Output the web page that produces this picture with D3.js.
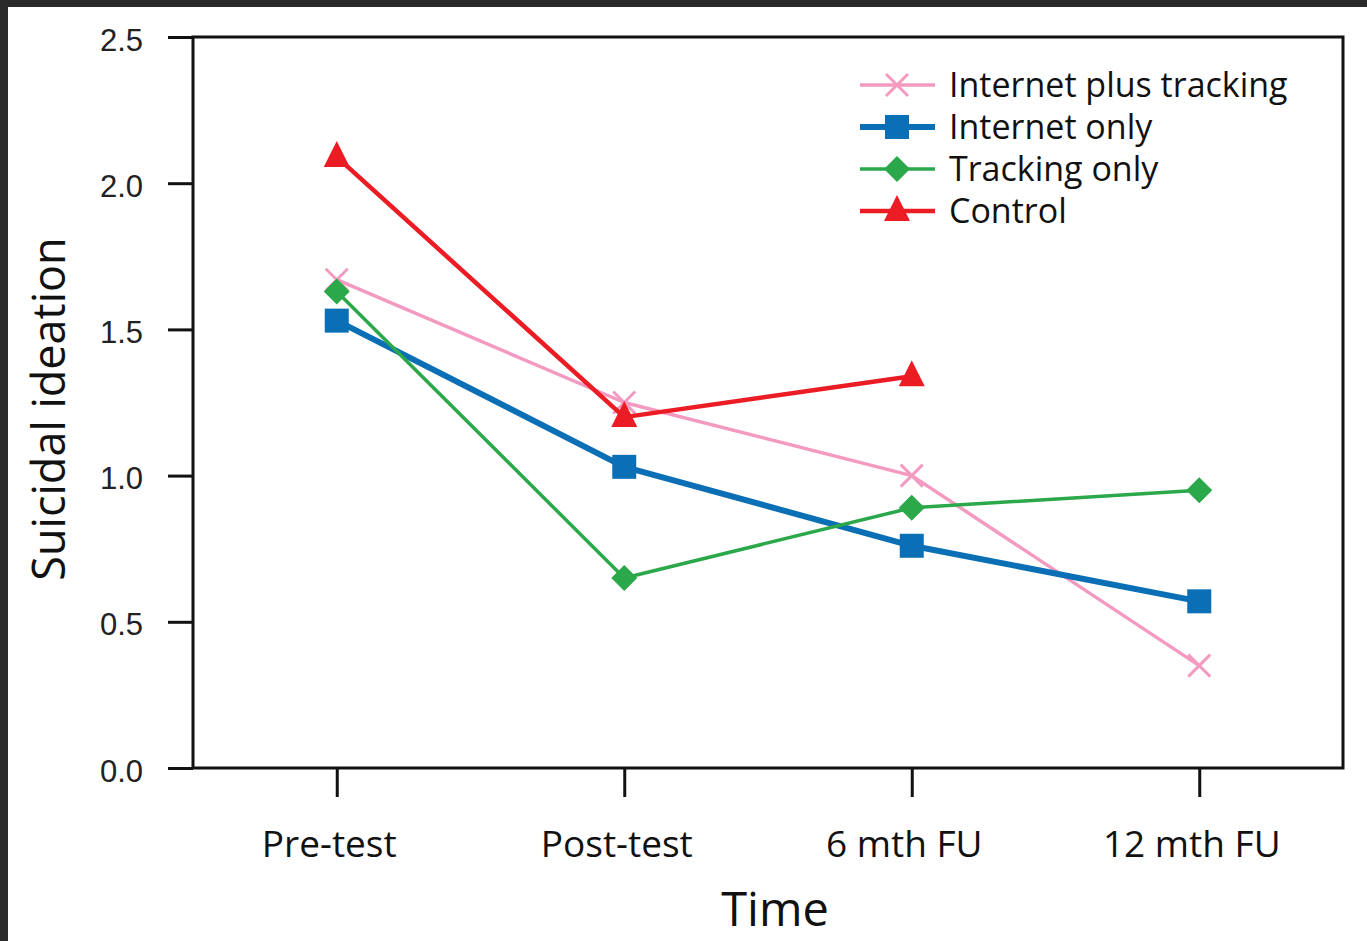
<!DOCTYPE html>
<html>
<head>
<meta charset="utf-8">
<script src="https://cdn.jsdelivr.net/npm/d3@7"></script>
<style>
  html, body { margin: 0; padding: 0; background: #fff; }
  svg { display: block; }
</style>
</head>
<body>
<div id="chart"></div>
<script>
// data
var timepoints = ['Pre-test', 'Post-test', '6 mth FU', '12 mth FU'];
var yTicks = [0.0, 0.5, 1.0, 1.5, 2.0, 2.5];

var internetPlusTracking = [1.67, 1.25, 1.00, 0.35];
var internetOnly = [1.53, 1.03, 0.76, 0.57];
var trackingOnly = [1.63, 0.65, 0.89, 0.95];
var control = [2.09, 1.20, 1.34, null];

var seriesNames = ['Internet plus tracking', 'Internet only', 'Tracking only', 'Control'];

var series = [
    { name: seriesNames[0], values: internetPlusTracking, color: '#f49ac1', width: 3.5, marker: 'cross' },
    { name: seriesNames[1], values: internetOnly, color: '#0b6fb6', width: 6, marker: 'square' },
    { name: seriesNames[2], values: trackingOnly, color: '#2aa84a', width: 3.5, marker: 'diamond' },
    { name: seriesNames[3], values: control, color: '#ec1c24', width: 4.5, marker: 'triangle' }
];

var W = 1367, H = 941;
var box = { left: 193, right: 1343, top: 37, bottom: 768 };

var svg = d3.select('#chart').append('svg')
    .attr('width', W)
    .attr('height', H);

// dark frame along top and left edges of the screenshot
svg.append('rect').attr('x', 0).attr('y', 0).attr('width', W).attr('height', 7).attr('fill', '#2a2a2a');
svg.append('rect').attr('x', 0).attr('y', 0).attr('width', 8).attr('height', H).attr('fill', '#2a2a2a');

var x = d3.scalePoint()
    .domain(timepoints)
    .range([box.left, box.right])
    .padding(0.5);

var y = d3.scaleLinear()
    .domain([0, 2.5])
    .range([box.bottom, box.top]);

// y axis ticks + labels
var yAxis = d3.axisLeft(y)
    .tickValues(yTicks)
    .tickFormat(d3.format('.1f'))
    .tickSize(25)
    .tickPadding(25);

var gy = svg.append('g')
    .attr('transform', 'translate(' + box.left + ',0)')
    .call(yAxis);
gy.select('.domain').remove();
gy.selectAll('line').attr('stroke', '#111').attr('stroke-width', 3);
gy.selectAll('text')
    .attr('dy', '0.42em')
    .attr('font-family', '"Liberation Sans", Arial, sans-serif')
    .attr('font-size', 31)
    .attr('fill', '#222');

// x axis ticks + labels
var xAxis = d3.axisBottom(x)
    .tickSize(29)
    .tickPadding(34);

var gx = svg.append('g')
    .attr('transform', 'translate(0,' + box.bottom + ')')
    .call(xAxis);
gx.select('.domain').remove();
gx.selectAll('line').attr('stroke', '#111').attr('stroke-width', 3);
gx.selectAll('text')
    .attr('dx', -8)
    .attr('font-family', '"Open Sans", "Noto Sans", sans-serif')
    .attr('font-size', 37)
    .attr('fill', '#111');

// plot frame
svg.append('rect')
    .attr('x', box.left)
    .attr('y', box.top)
    .attr('width', box.right - box.left)
    .attr('height', box.bottom - box.top)
    .attr('fill', 'none')
    .attr('stroke', '#111')
    .attr('stroke-width', 3);

// axis titles
svg.append('text')
    .attr('transform', 'translate(65,409) rotate(-90)')
    .attr('text-anchor', 'middle')
    .attr('font-family', '"Open Sans", "Noto Sans", sans-serif')
    .attr('font-size', 45)
    .attr('fill', '#111')
    .text('Suicidal ideation');

svg.append('text')
    .attr('x', 775)
    .attr('y', 926)
    .attr('text-anchor', 'middle')
    .attr('font-family', '"Open Sans", "Noto Sans", sans-serif')
    .attr('font-size', 47)
    .attr('fill', '#111')
    .text('Time');

function drawMarker(g, type, color) {
    if (type === 'square') {
        g.append('rect').attr('x', -12).attr('y', -12).attr('width', 24).attr('height', 24).attr('fill', color);
    } else if (type === 'diamond') {
        g.append('path').attr('d', 'M0,-13L13,0L0,13L-13,0Z').attr('fill', color);
    } else if (type === 'triangle') {
        g.append('path').attr('d', 'M0,-16L13,10L-13,10Z').attr('fill', color);
    } else {
        g.append('path').attr('d', 'M-11,-11L11,11M-11,11L11,-11')
            .attr('stroke', color).attr('stroke-width', 3).attr('fill', 'none');
    }
}

var line = d3.line()
    .defined(function(d) { return d != null; })
    .x(function(d, i) { return x(timepoints[i]); })
    .y(function(d) { return y(d); });

series.forEach(function(s) {
    var g = svg.append('g');
    g.append('path')
        .datum(s.values)
        .attr('d', line)
        .attr('fill', 'none')
        .attr('stroke', s.color)
        .attr('stroke-width', s.width)
        .attr('stroke-linejoin', 'round');

    s.values.forEach(function(v, i) {
        if (v == null) return;
        var m = g.append('g').attr('transform', 'translate(' + x(timepoints[i]) + ',' + y(v) + ')');
        drawMarker(m, s.marker, s.color);
    });
});

// legend
var legend = svg.append('g').attr('transform', 'translate(860,85)');
series.forEach(function(s, i) {
    var row = legend.append('g').attr('transform', 'translate(0,' + (i * 42) + ')');
    row.append('line')
        .attr('x1', 0).attr('x2', 75).attr('y1', 0).attr('y2', 0)
        .attr('stroke', s.color).attr('stroke-width', s.width);
    var m = row.append('g').attr('transform', 'translate(37,0)');
    drawMarker(m, s.marker, s.color);
    row.append('text')
        .attr('x', 89)
        .attr('y', 12)
        .attr('font-family', '"Open Sans", "Noto Sans", sans-serif')
        .attr('font-size', 34)
        .attr('fill', '#111')
        .text(s.name);
});
</script>
</body>
</html>
